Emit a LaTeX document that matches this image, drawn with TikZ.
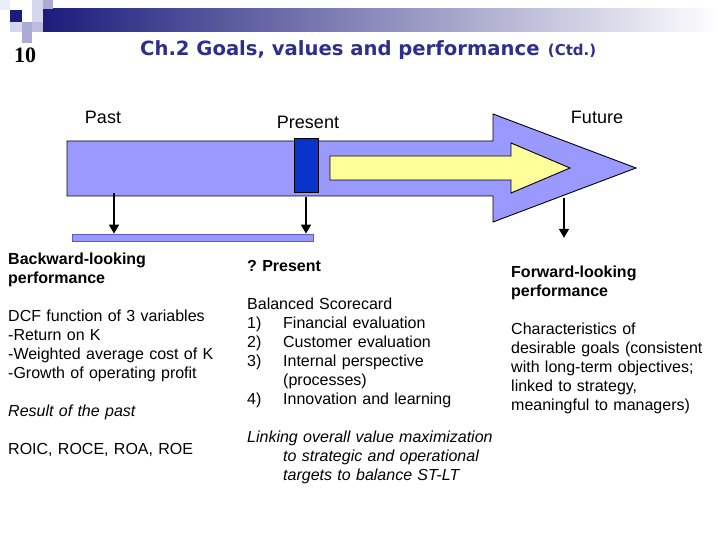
\documentclass[tikz,border=0pt]{standalone}
\usepackage{fontspec}
\setmainfont{Liberation Sans}
\newfontfamily\titlefont{DejaVu Sans}
\newfontfamily\numfont{Liberation Serif}
\usetikzlibrary{arrows.meta, positioning}
\definecolor{titlenavy}{HTML}{2E2E8C}
\definecolor{bandnavy}{HTML}{1C1C7C}
\definecolor{lavlight}{HTML}{D6D6EC}
\definecolor{lavmid}{HTML}{ABABD6}
\definecolor{lavpale}{HTML}{ECECF6}
\definecolor{periwinkle}{HTML}{9999FF}
\definecolor{nowblue}{HTML}{0A33CC}
\definecolor{paleyellow}{HTML}{FFFF99}
\definecolor{barline}{HTML}{5A5AC8}

\begin{document}
\begin{tikzpicture}[x=1pt, y=-1pt,
    coltext/.style={anchor=base west, inner sep=0pt, text width=#1, align=left,
                    font=\fontsize{16}{19}\selectfont},
    tlabel/.style={font=\fontsize{18}{21}\selectfont, inner sep=0pt},
    downarrow/.style={line width=2.6pt, -{Triangle[width=9.5pt,length=9pt]}}]
    \useasboundingbox (0,0) rectangle (720,540);
    % header band and squares
    \shade[left color=bandnavy, right color=white] (43,9) rectangle (720,32);
    \fill[lavpale] (0,0) rectangle (10,10);
    \fill[bandnavy] (10,10) rectangle (22,22);
    \fill[lavlight] (32,0) rectangle (43,10);
    \fill[lavmid] (43,0) rectangle (53,9);
    \fill[lavlight] (32,10) rectangle (43,22);
    \fill[lavlight] (10,22) rectangle (22,32);
    \fill[lavmid] (22,22) rectangle (32,32);
    \fill[lavmid!80] (32,22) rectangle (43,32);
    \fill[lavmid] (22,32) rectangle (32,43);
    % slide number and title
    \node[anchor=base west, inner sep=0pt, font=\numfont\bfseries\fontsize{22}{24}\selectfont]
      (slideno) at (14,63) {10};
    \node[anchor=base west, inner sep=0pt, text=titlenavy,
          font=\titlefont\bfseries\fontsize{19.6}{22}\selectfont]
      (title) at (140,56) {Ch.2 Goals, values and performance};
    \node[anchor=base west, inner sep=0pt, text=titlenavy,
          font=\titlefont\bfseries\fontsize{15}{17}\selectfont]
      (ctd) at ([xshift=8pt]title.base east) {(Ctd.)};
    % time labels
    \node[tlabel] (past) at (103,117) {Past};
    \node[tlabel] (present) at (308,122) {Present};
    \node[tlabel] (future) at (597,117) {Future};
    % big arrow
    \draw[fill=periwinkle, line width=0.9pt]
      (67,141) -- (493,141) -- (493,114) -- (636,168) -- (493,222) -- (493,196) -- (67,196) -- cycle;
    \draw[fill=paleyellow, line width=0.9pt]
      (330,156) -- (511,156) -- (511,143) -- (570,168) -- (511,193) -- (511,180) -- (330,180) -- cycle;
    \node[draw, fill=nowblue, line width=0.6pt, minimum width=24pt, minimum height=54pt,
          inner sep=0pt] (now) at (306,165) {};
    % bar under past and present
    \node[draw=barline, fill=periwinkle, line width=0.5pt, minimum width=241pt,
          minimum height=7pt, inner sep=0pt] (timebar) at (192.5,237.5) {};
    \coordinate (pastdrop) at (114,193);
    \coordinate (futuredrop) at (564,198);
    \coordinate (futureend) at (564,238);
    \draw[downarrow] (pastdrop) -- (pastdrop |- timebar.north);
    \draw[downarrow] ([yshift=-5pt]now.south) -- (now.south |- timebar.north);
    \draw[downarrow] (futuredrop) -- (futureend);
    % columns
    \node[coltext=228pt] (backward) at (8,264) {%
      \textbf{Backward-looking}\\
      \textbf{performance}\\[19pt]
      DCF function of 3 variables\\
      -Return on K\\
      -Weighted average cost of K\\
      -Growth of operating profit\\[19pt]
      \textit{Result of the past}\\[19pt]
      ROIC, ROCE, ROA, ROE};
    \node[coltext=262pt] (scorecard) at (247,271) {%
      \textbf{?\ Present}\\[19pt]
      Balanced Scorecard\\
      \makebox[36pt][l]{1)}Financial evaluation\\
      \makebox[36pt][l]{2)}Customer evaluation\\
      \makebox[36pt][l]{3)}Internal perspective\\
      \hspace*{36pt}(processes)\\
      \makebox[36pt][l]{4)}Innovation and learning\\[19pt]
      \textit{Linking overall value maximization}\\
      \hspace*{36pt}\textit{to strategic and operational}\\
      \hspace*{36pt}\textit{targets to balance ST-LT}};
    \node[coltext=206pt] (forward) at (511,277) {%
      \textbf{Forward-looking}\\
      \textbf{performance}\\[19pt]
      Characteristics of\\
      desirable goals (consistent\\
      with long-term objectives;\\
      linked to strategy,\\
      meaningful to managers)};
\end{tikzpicture}
\end{document}
